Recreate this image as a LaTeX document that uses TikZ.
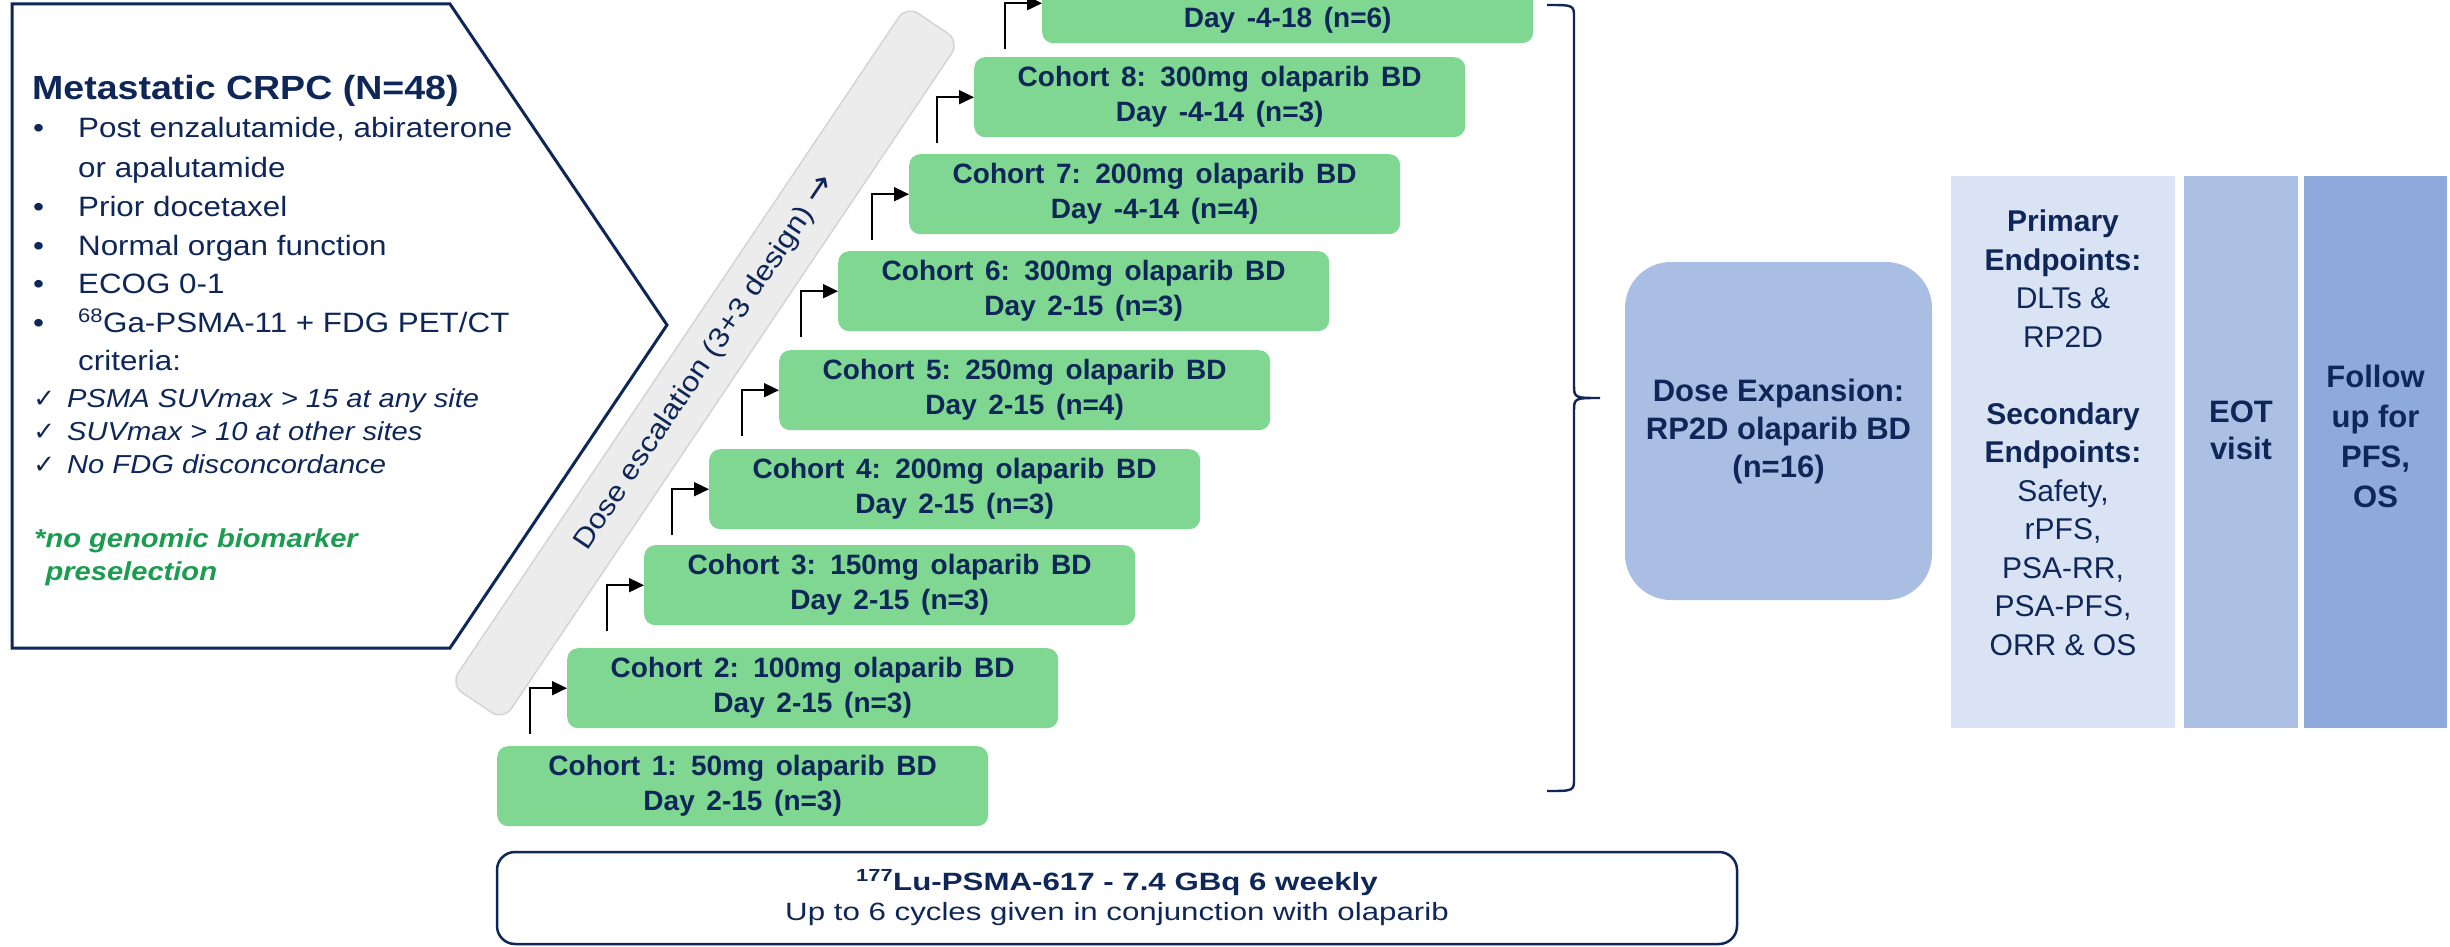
\documentclass[tikz,border=0pt]{standalone}
\usepackage{fontspec}
\setmainfont{Liberation Sans}
\newfontfamily\widefont[FakeStretch=1.12]{Liberation Sans}
\newfontfamily\lowfont[FakeStretch=1.25]{Liberation Sans}
\newfontfamily\cohortfont[WordSpace=1.5]{Liberation Sans}
\newfontfamily\symfont{DejaVu Sans}
\usetikzlibrary{arrows.meta}
\usetikzlibrary{calc}

\definecolor{navy}{RGB}{14,39,88}
\definecolor{cohortgreen}{RGB}{127,215,145}
\definecolor{bandgray}{RGB}{236,236,236}
\definecolor{bandline}{RGB}{212,212,212}
\definecolor{notegreen}{RGB}{28,156,80}
\definecolor{expblue}{RGB}{170,190,227}
\definecolor{endptblue}{RGB}{218,227,243}
\definecolor{eotblue}{RGB}{172,192,228}
\definecolor{fupblue}{RGB}{142,169,219}

\newcommand{\blt}{\llap{\makebox[45pt][l]{•}}}

\tikzset{
  crit/.style={anchor=base west, inner sep=0, text=navy, font=\widefont\fontsize{28}{34}\selectfont},
  check/.style={anchor=base west, inner sep=0, text=navy, font=\widefont\fontsize{26}{32}\selectfont\itshape},
  note/.style={anchor=base west, inner sep=0, text=notegreen, font=\widefont\fontsize{26}{32}\selectfont\bfseries\itshape},
  band/.style={fill=bandgray, draw=bandline, line width=1.5, rounded corners=14, minimum width=818, minimum height=64, inner sep=0, text=navy, font=\widefont\fontsize{28}{34}\selectfont},
  cohort/.style={fill=cohortgreen, rounded corners=11, minimum width=491, minimum height=80, inner sep=0, align=center, text=navy, font=\cohortfont\fontsize{28}{35}\selectfont\bfseries},
  elbow/.style={line width=1.8, -{Triangle[length=15pt,width=14pt]}},
  bracket/.style={navy, line width=2.4},
  expbox/.style={fill=expblue, rounded corners=46, minimum width=307, minimum height=338, inner sep=0, align=center, text=navy, font=\fontsize{31}{38}\selectfont\bfseries},
  column/.style={minimum height=552, inner sep=0},
  coltext/.style={inner sep=0, align=center, text=navy, font=\fontsize{30}{38.5}\selectfont},
  lubox/.style={draw=navy, fill=white, line width=2.5, rounded corners=18, minimum width=1240, minimum height=92, inner sep=0, align=center, text=navy, font=\lowfont\fontsize{25}{30}\selectfont}
}

\begin{document}
\begin{tikzpicture}[x=1pt, y=-1pt]
    \fill[white] (0,0) rectangle (2450,947);
    \useasboundingbox (0,0) rectangle (2450,947);

    % patient population
    \draw[navy, line width=3] (12,4) -- (450,4) -- (667,325) -- (450,648) -- (12,648) -- cycle;
    \node[anchor=base west, inner sep=0, text=navy, font=\widefont\bfseries\fontsize{33.5}{40}\selectfont] (title) at (32,100) {Metastatic CRPC (N=48)};
    \foreach \y/\txt [count=\i] in {138/{\blt Post enzalutamide, abiraterone}, 177/{or apalutamide}, 216/{\blt Prior docetaxel}, 255/{\blt Normal organ function}, 293/{\blt ECOG 0-1}, 332/{\blt \textsuperscript{68}Ga-PSMA-11 + FDG PET/CT}, 370/{criteria:}}
        \node[crit] (crit\i) at (78,\y) {\txt};
    \foreach \y/\txt [count=\i] in {407/{PSMA SUVmax > 15 at any site}, 440/{SUVmax > 10 at other sites}, 473/{No FDG disconcordance}}
        \node[check] (chk\i) at (67,\y) {\llap{{\symfont ✓}\hspace{12pt}}\txt};
    \node[note] (note1) at (34,547) {*no genomic biomarker};
    \node[note] (note2) at (34,580) {\phantom{*}preselection};

    % dose escalation
    \node[band, rotate=56.1] (esc) at (705,363) {Dose escalation (3+3 design) {\symfont\fontsize{34}{34}\selectfont →}};

    \foreach \i/\x/\y/\dose/\days in {1/497/746/50mg/{Day 2-15 (n=3)}, 2/567/648/100mg/{Day 2-15 (n=3)}, 3/644/545/150mg/{Day 2-15 (n=3)}, 4/709/449/200mg/{Day 2-15 (n=3)}, 5/779/350/250mg/{Day 2-15 (n=4)}, 6/838/251/300mg/{Day 2-15 (n=3)}, 7/909/154/200mg/{Day -4-14 (n=4)}, 8/974/57/300mg/{Day -4-14 (n=3)}}
        \node[cohort, anchor=north west] (c\i) at (\x,\y) {Cohort \i: \dose\ olaparib BD\\\days};
    \node[cohort, anchor=north west] (c9) at (1042,-37) {\vphantom{Cohort 9}\\Day -4-18 (n=6)};

    \foreach \i in {2,...,9} {
        \coordinate (s\i) at ($(c\i.south west)+(-37,6)$);
        \draw[elbow] (s\i) |- (c\i.west);
    }

    % brace to expansion
    \coordinate (bt) at (1547,5);
    \coordinate (bb) at (1547,791);
    \coordinate (tip) at (1600,398);
    \draw[bracket] (bt) .. controls (1574,5) .. (1574,18) -- (1574,384)
        .. controls (1574,398) .. (tip) .. controls (1574,398) .. (1574,412)
        -- (1574,778) .. controls (1574,791) .. (bb);

    \node[expbox] (exp) at (1778.5,431) {Dose Expansion:\\RP2D olaparib BD\\(n=16)};

    % endpoints and follow up
    \node[column, fill=endptblue, minimum width=224] (ep) at (2063,452) {};
    \node[column, fill=eotblue, minimum width=114] (eot) at (2241,452) {};
    \node[column, fill=fupblue, minimum width=143] (fup) at (2375.5,452) {};
    \node[coltext] (eptext) at (2063,433) {\textbf{Primary}\\\textbf{Endpoints:}\\DLTs \&\\RP2D\\\mbox{}\\\textbf{Secondary}\\\textbf{Endpoints:}\\Safety,\\rPFS,\\PSA-RR,\\PSA-PFS,\\ORR \& OS};
    \node[coltext, font=\fontsize{31}{37}\selectfont\bfseries] (eottext) at (2241,430) {EOT\\visit};
    \node[coltext, font=\fontsize{31}{40}\selectfont\bfseries] (fuptext) at (2375.5,436) {Follow\\up for\\PFS,\\OS};

    % radioligand
    \node[lubox] (lu) at (1117,898) {{\bfseries\textsuperscript{177}Lu-PSMA-617 - 7.4 GBq 6 weekly}\\Up to 6 cycles given in conjunction with olaparib};
\end{tikzpicture}
\end{document}
